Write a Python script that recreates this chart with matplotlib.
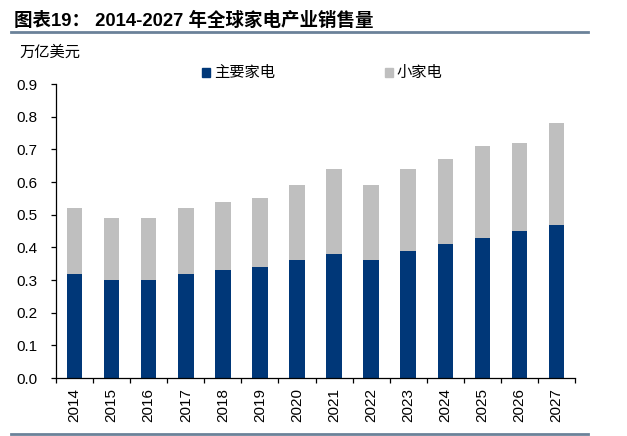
import matplotlib.pyplot as plt
import numpy as np
from matplotlib.patches import Rectangle
from matplotlib.lines import Line2D

years = ['2014', '2015', '2016', '2017', '2018', '2019', '2020',
         '2021', '2022', '2023', '2024', '2025', '2026', '2027']
major = [0.32, 0.30, 0.30, 0.32, 0.33, 0.34, 0.36,
         0.38, 0.36, 0.39, 0.41, 0.43, 0.45, 0.47]
total = [0.52, 0.49, 0.49, 0.52, 0.54, 0.55, 0.59,
         0.64, 0.59, 0.64, 0.67, 0.71, 0.72, 0.78]
small = [round(t - m, 2) for t, m in zip(total, major)]
series_names = ['主要家电', '小家电']

plt.rcParams['font.family'] = ['Liberation Sans', 'Noto Sans CJK SC', 'DejaVu Sans']
navy = '#003778'
grey = '#bfbfbf'

fig = plt.figure(figsize=(6.27, 4.36), dpi=100)
ax = fig.add_axes([0.0893, 0.133, 0.828, 0.674])

x = np.arange(len(years))
ax.bar(x, major, width=0.42, color=navy)
ax.bar(x, small, bottom=major, width=0.42, color=grey)

ax.set_xlim(-0.5, len(years) - 0.5)
ax.set_ylim(0, 0.9)
ax.set_yticks(np.arange(0, 0.91, 0.1))
ax.set_yticklabels(['%.1f' % v for v in np.arange(0, 0.91, 0.1)], fontsize=11)
ax.set_xticks(x)
ax.set_xticklabels(years, rotation=90, fontsize=11)
ax.tick_params(axis='x', which='major', length=0, pad=7)
ax.set_xticks(np.arange(-0.5, len(years), 1), minor=True)
ax.tick_params(axis='x', which='minor', length=3.5, direction='out', width=0.9)
ax.tick_params(axis='y', length=3.5, direction='out', width=0.9, pad=10)
for s in ['top', 'right']:
    ax.spines[s].set_visible(False)
for s in ['left', 'bottom']:
    ax.spines[s].set_linewidth(0.9)

# title and rules
fig.text(0.023, 0.952, '图表19： 2014-2027 年全球家电产业销售量', fontsize=13.3,
         fontweight='bold', va='center', ha='left')
fig.add_artist(Line2D([0.0175, 0.938], [0.926, 0.926], color='#6b8299', lw=2))
fig.add_artist(Line2D([0.0175, 0.938], [0.005, 0.005], color='#6b8299', lw=2))

fig.text(0.031, 0.880, '万亿美元', fontsize=11, va='center', ha='left',
         family=['Noto Sans CJK SC'])

# legend
for lx, name, c in [(0.322, series_names[0], navy), (0.614, series_names[1], grey)]:
    fig.add_artist(Rectangle((lx, 0.823), 0.013, 0.020, color=c, transform=fig.transFigure))
    fig.text(lx + 0.019, 0.833, name, fontsize=11, va='center', ha='left',
             family=['Noto Sans CJK SC'])

plt.savefig('out.png', dpi=100)
